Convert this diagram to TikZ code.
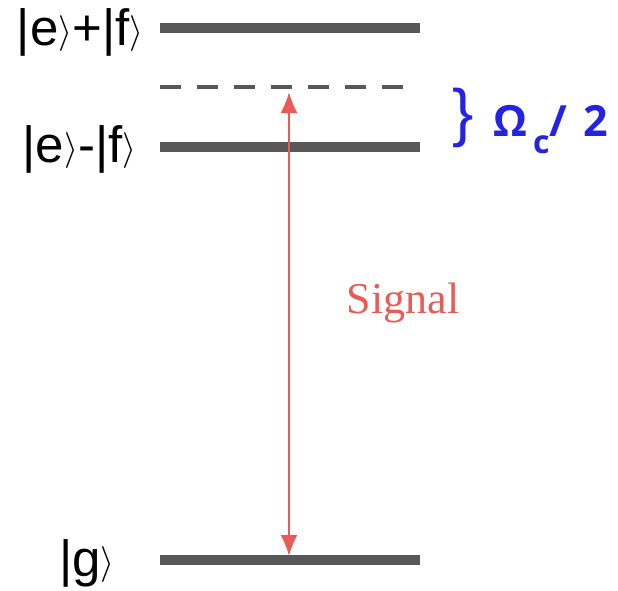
\documentclass[tikz,border=0pt]{standalone}
\usepackage{fontspec}
\usepackage{graphicx}
\setmainfont{Liberation Sans}
\newfontfamily\signalfont{Liberation Serif}
\newfontfamily\omegafont{Open Sans}
\usetikzlibrary{arrows.meta}
\definecolor{levelgray}{RGB}{88,88,88}
\definecolor{signalred}{RGB}{232,92,88}
\definecolor{rabiblue}{RGB}{35,35,225}
\newcommand{\rket}{\raisebox{1.5pt}{\scalebox{0.72}{\fontsize{23}{23}\selectfont$\rangle$}}}
\tikzset{
    level/.style={levelgray, line width=5pt},
    virtual/.style={levelgray, line width=2.25pt, dash pattern=on 10.5pt off 8pt},
    signal/.style={signalred, line width=1pt,
        {Latex[length=10.5pt,width=8.5pt]}-{Latex[length=10.5pt,width=8.5pt]}},
    statelabel/.style={inner sep=0pt, font=\fontsize{25.5}{27}\selectfont},
    % splitting label in blue, next to the brace
    splitlabel/.style={inner sep=0pt, rabiblue, font=\omegafont\bfseries\fontsize{21.5}{23}\selectfont},
}
\begin{document}
\begin{tikzpicture}[x=0.5pt, y=-0.5pt]
    \useasboundingbox (0,0) rectangle (618,591);

    % levels
    \coordinate (plusL) at (160,28);
    \coordinate (plusR) at (420,28);
    \coordinate (virtL) at (160,87);
    \coordinate (virtR) at (404,87);
    \coordinate (minusL) at (160,147);
    \coordinate (minusR) at (420,147);
    \coordinate (gndL) at (160,559.5);
    \coordinate (gndR) at (420,559.5);

    \draw[level] (plusL) -- (plusR);
    \draw[virtual] (virtL) -- (virtR);
    \draw[level] (minusL) -- (minusR);
    \draw[level] (gndL) -- (gndR);

    \node[statelabel, anchor=base east] (plus) at (144,45) {|e\rket+|f\rket};
    \node[statelabel, anchor=base east] (minus) at (137,162) {|e\rket-|f\rket};
    \node[statelabel, anchor=base east] (gnd) at (115,576) {|g\rket};

    % probe transition
    \coordinate (sigtop) at (289,92);
    \coordinate (sigbot) at (289,556);
    \draw[signal] (sigtop) -- (sigbot);
    \node[signalred, inner sep=0pt, anchor=base, font=\signalfont\fontsize{22}{24}\selectfont] (sig) at (403,313) {Signal};

    % splitting
    \node[rabiblue, inner sep=0pt, font=\fontsize{32}{34}\selectfont] (brace) at (463,118) {\}};
    \node[splitlabel, anchor=base west] (omega) at (493,136)
        {Ω\hspace{3pt}\raisebox{-8.5pt}{\fontsize{16}{16}\selectfont c}/\hspace{8pt}2};
\end{tikzpicture}
\end{document}
